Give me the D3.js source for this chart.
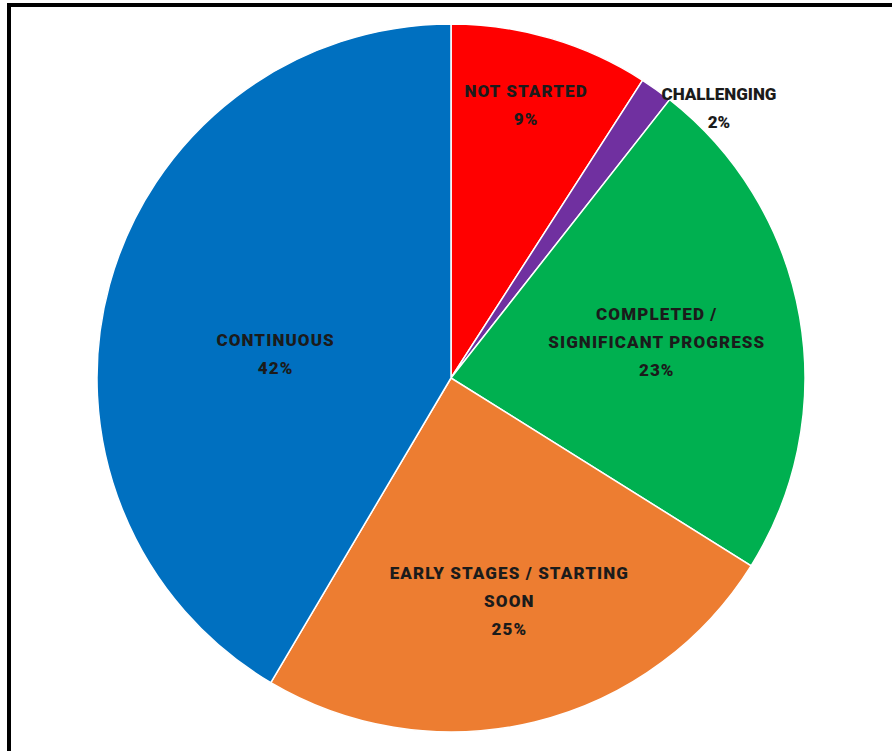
<!DOCTYPE html>
<html>
<head>
<meta charset="utf-8">
<script src="https://cdn.jsdelivr.net/npm/d3@7"></script>
<style>
  body { margin: 0; background: #fff; }
  svg { display: block; }
</style>
</head>
<body>
<svg id="chart"></svg>
<script>
// slices clockwise from 12 o'clock
var categories = ["NOT STARTED", "CHALLENGING", "COMPLETED / SIGNIFICANT PROGRESS", "EARLY STAGES / STARTING SOON", "CONTINUOUS"];
var labelLines = [["NOT STARTED"], ["CHALLENGING"], ["COMPLETED /", "SIGNIFICANT PROGRESS"], ["EARLY STAGES / STARTING", "SOON"], ["CONTINUOUS"]];
var values = [9.1, 1.5, 23.3, 24.6, 41.5];
var colors = ["#FF0000", "#7030A0", "#00B050", "#ED7D31", "#0070C0"];

var width = 892, height = 751;
var cx = 451, cy = 378, radius = 354;
// label placement: fraction of radius + angle nudge (degrees) from slice middle
var labelRadius = [0.8, 1.075, 0.59, 0.65, 0.5];
var labelShift = [-1, 9.3, 0, -1, -7.5];
var lineGap = 28;

var svg = d3.select('#chart')
    .attr("width", width)
    .attr("height", height);

// frame (left + top edges only, like the cropped screenshot)
svg.append('path')
    .attr('d', `M9,${height} L9,5 L${width},5`)
    .attr('fill', 'none')
    .attr('stroke', '#000')
    .attr('stroke-width', 4);

var pie = d3.pie()
    .sort(null)
    .value(d => d);

var arcs = pie(values);

var arc = d3.arc()
    .innerRadius(0)
    .outerRadius(radius);

var g = svg.append('g')
    .attr("transform", `translate(${cx},${cy})`);

g.selectAll('path')
    .data(arcs)
    .enter()
    .append('path')
    .attr('d', arc)
    .attr('fill', (d, i) => colors[i])
    .attr('stroke', '#fff')
    .attr('stroke-width', 1.5);

// labels
var labels = g.selectAll('g.label')
    .data(arcs)
    .enter()
    .append('g')
    .attr('class', 'label')
    .attr('transform', function (d, i) {
        var r = radius * labelRadius[i];
        var a = (d.startAngle + d.endAngle) / 2 + labelShift[i] * Math.PI / 180;
        return `translate(${r * Math.sin(a)},${-r * Math.cos(a)})`;
    });

labels.each(function (d, i) {
    var lines = labelLines[i].concat([Math.round(values[i]) + '%']);
    var top = -(lines.length - 1) * lineGap / 2;
    var outside = labelRadius[i] > 1;
    d3.select(this).selectAll('text')
        .data(lines)
        .enter()
        .append('text')
        .attr('y', (t, j) => top + j * lineGap)
        .attr('dy', '0.35em')
        .attr('text-anchor', 'middle')
        .style('font-family', 'Roboto, "Liberation Sans", sans-serif')
        .style('font-weight', '900')
        .style('font-size', '17px')
        .style('letter-spacing', outside ? '0px' : '1.1px')
        .attr('fill', '#1b1b1b')
        .text(t => t);
});
</script>
</body>
</html>
